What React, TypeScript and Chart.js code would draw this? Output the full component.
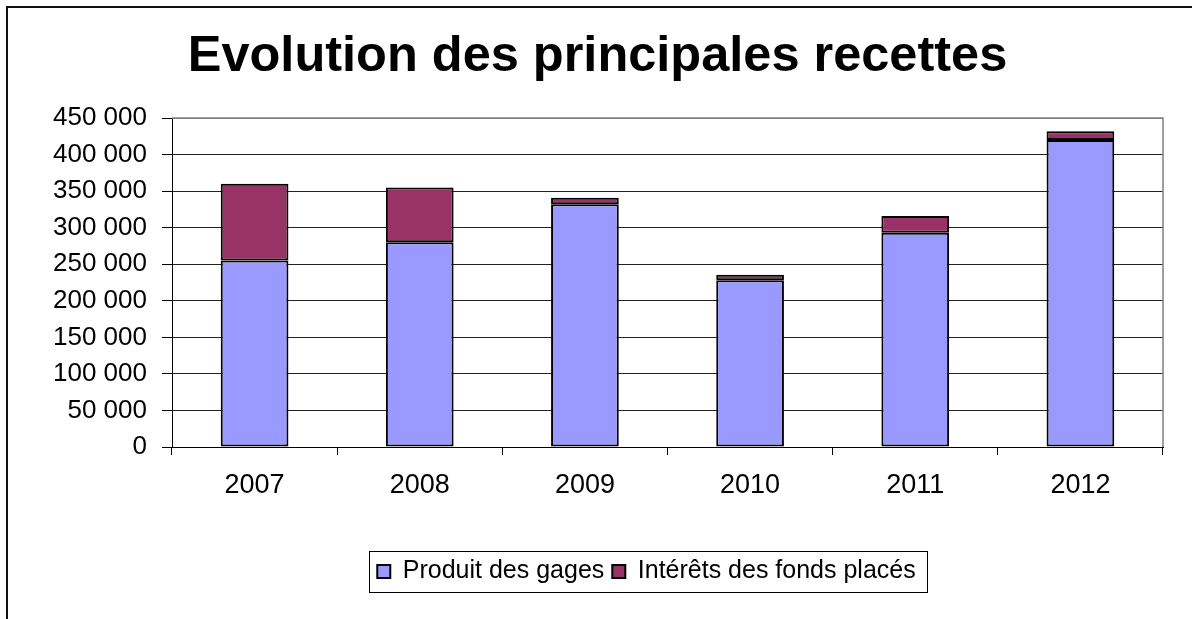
import React, { useEffect, useRef } from 'react';
import { Chart, registerables } from 'chart.js';

Chart.register(...registerables);

const categories = ['2007', '2008', '2009', '2010', '2011', '2012'];
const produitDesGages = [255000, 280000, 332000, 228000, 293000, 420000];
const interetsDesFondsPlaces = [105000, 75000, 9000, 7500, 23000, 12000];
const seriesNames = ['Produit des gages', 'Intérêts des fonds placés'];
const titleText = 'Evolution des principales recettes';
const yMin = 0;
const yMax = 450000;
const yStep = 50000;

const FAMILY = "'Liberation Sans', Arial, Helvetica, sans-serif";

const fmt = (v: number) => String(v).replace(/\B(?=(\d{3})+(?!\d))/g, ' ');

const framePlugin = {
  id: 'frame',
  beforeDraw(chart: any) {
    const { ctx, width, height } = chart;
    ctx.save();
    ctx.fillStyle = '#ffffff';
    ctx.fillRect(0, 0, width, height);
    ctx.strokeStyle = '#111';
    ctx.lineWidth = 2;
    ctx.beginPath();
    ctx.moveTo(7, height + 2);
    ctx.lineTo(7, 7);
    ctx.lineTo(width + 2, 7);
    ctx.stroke();
    ctx.restore();
  },
  afterLayout(chart: any) {
    const lg = chart.legend;
    if (lg) {
      lg.left += 65;
      lg.right += 65;
    }
    const tb = chart.titleBlock;
    if (tb) {
      tb.left += 16;
      tb.right += 16;
    }
  },
  beforeDatasetsDraw(chart: any) {
    const { ctx, chartArea } = chart;
    ctx.save();
    ctx.strokeStyle = '#808080';
    ctx.lineWidth = 1.5;
    ctx.beginPath();
    ctx.moveTo(chartArea.left, chartArea.top);
    ctx.lineTo(chartArea.right, chartArea.top);
    ctx.lineTo(chartArea.right, chartArea.bottom);
    ctx.stroke();
    ctx.restore();
  },
  afterDraw(chart: any) {
    const lg = chart.legend;
    if (!lg || !lg.legendHitBoxes || !lg.legendHitBoxes.length) return;
    const hb = lg.legendHitBoxes;
    const first = hb[0];
    const last = hb[hb.length - 1];
    const x0 = first.left - 8;
    const x1 = last.left + last.width + 12;
    const y0 = first.top - 8;
    const y1 = first.top + first.height + 8;
    const { ctx } = chart;
    ctx.save();
    ctx.strokeStyle = '#000';
    ctx.lineWidth = 1;
    ctx.strokeRect(Math.round(x0) + 0.5, Math.round(y0) + 0.5, Math.round(x1 - x0), Math.round(y1 - y0));
    ctx.restore();
  },
};

export default function App() {
  const canvasRef = useRef<HTMLCanvasElement | null>(null);

  useEffect(() => {
    if (!canvasRef.current) return;
    const chart = new Chart(canvasRef.current, {
      type: 'bar',
      data: {
        labels: categories,
        datasets: [
          {
            label: seriesNames[0],
            data: produitDesGages,
            backgroundColor: '#9999FF',
            borderColor: '#000000',
            borderWidth: 2,
            borderSkipped: false,
            barPercentage: 0.41,
            categoryPercentage: 1,
          },
          {
            label: seriesNames[1],
            data: interetsDesFondsPlaces,
            backgroundColor: '#993366',
            borderColor: '#000000',
            borderWidth: 2,
            borderSkipped: false,
            barPercentage: 0.41,
            categoryPercentage: 1,
          },
        ],
      },
      options: {
        responsive: false,
        animation: false,
        devicePixelRatio: 1,
        layout: { padding: { left: 0, right: 29, top: 0, bottom: 25 } },
        scales: {
          x: {
            stacked: true,
            ticks: {
              color: '#000',
              font: { size: 27, family: FAMILY },
              padding: 14,
              maxRotation: 0,
              autoSkip: false,
            },
            grid: {
              offset: true,
              drawOnChartArea: false,
              drawTicks: true,
              tickLength: 8,
              color: '#000',
              lineWidth: 1,
            },
            border: { display: true, color: '#000', width: 1 },
            afterFit: (s: any) => {
              s.height = 104;
            },
          },
          y: {
            stacked: true,
            min: yMin,
            max: yMax,
            ticks: {
              stepSize: yStep,
              color: '#000',
              font: { size: 26, family: FAMILY },
              padding: 15,
              callback: (v: any) => fmt(Number(v)),
            },
            grid: {
              color: (c: any) => (c.tick && c.tick.value === yMax ? '#808080' : '#222'),
              lineWidth: 1,
              drawTicks: true,
              tickLength: 10,
              tickColor: '#000',
            },
            border: { display: true, color: '#000', width: 1 },
            afterFit: (s: any) => {
              s.width = 172;
            },
          },
        },
        plugins: {
          title: {
            display: true,
            text: titleText,
            color: '#000',
            font: { size: 50.5, weight: 'bold', family: FAMILY, lineHeight: 1.2 },
            padding: { top: 27.2, bottom: 30.2 },
          },
          legend: {
            display: true,
            position: 'bottom',
            labels: {
              color: '#000',
              font: { size: 25, family: FAMILY },
              boxWidth: 13,
              boxHeight: 13,
              padding: 8,
            },
          },
          tooltip: { enabled: false },
        },
      },
      plugins: [framePlugin],
    } as any);
    return () => chart.destroy();
  }, []);

  return (
    <div style={{ position: 'absolute', left: 0, top: 0, width: 1192, height: 619 }}>
      <canvas ref={canvasRef} width={1192} height={619} style={{ display: 'block' }} />
    </div>
  );
}
